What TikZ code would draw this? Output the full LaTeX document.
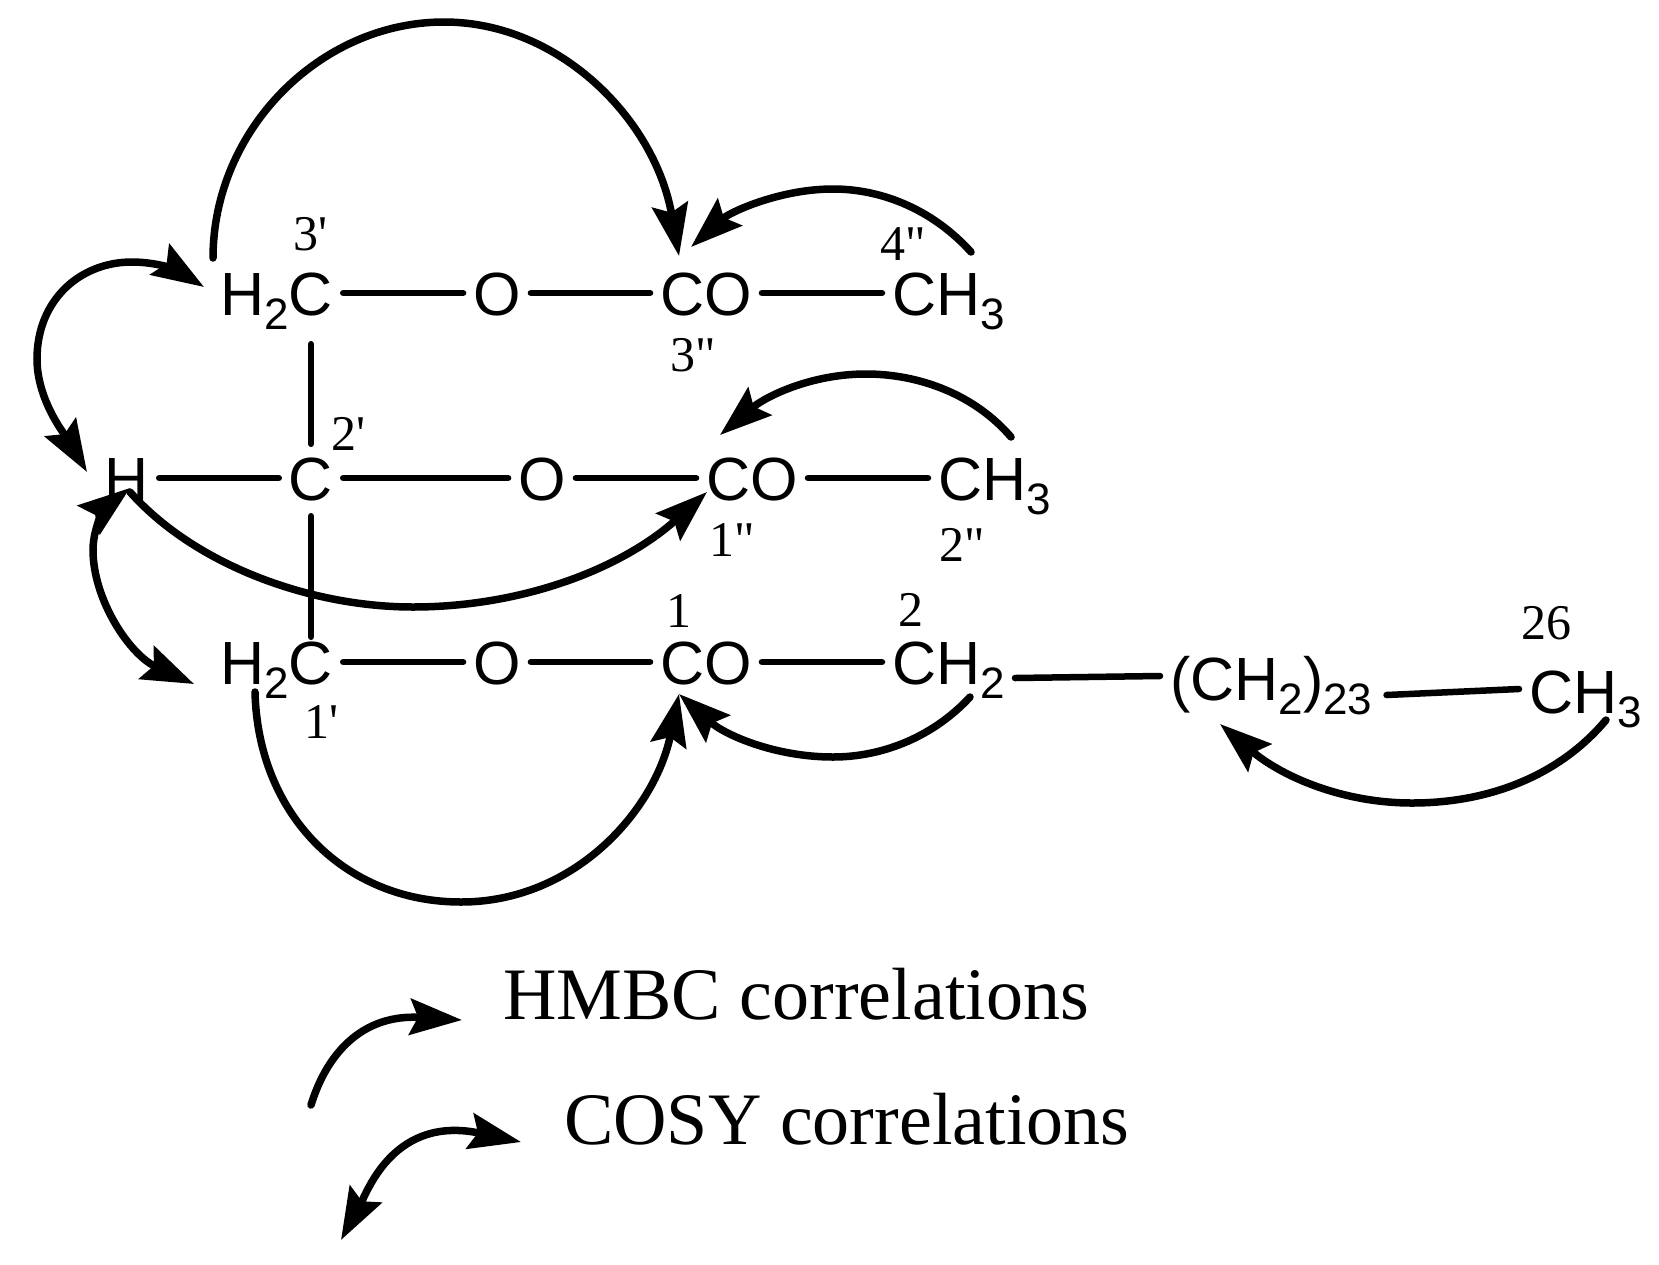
\documentclass[tikz,border=0pt]{standalone}
\usepackage{fontspec}
\setmainfont{Liberation Sans}
\newfontfamily\labelfont{Liberation Serif}
\usetikzlibrary{positioning,arrows.meta}
\newcommand{\atomsub}[1]{\raisebox{-14pt}{\fontsize{44}{44}\selectfont #1}}
\tikzstyle{node_atom} = [inner xsep=10pt, inner ysep=12pt, text height=44pt, text depth=0pt, font=\fontsize{61}{61}\selectfont]
\tikzstyle{node_label} = [inner sep=0pt, anchor=base, font=\labelfont\fontsize{50}{50}\selectfont]
\tikzstyle{node_legend} = [inner sep=0pt, anchor=base west, font=\labelfont\fontsize{74}{74}\selectfont]
\tikzstyle{edge_bond} = [line width=6.5pt, line cap=round]
\tikzstyle{edge_hmbc} = [line width=7.5pt, line cap=round, -{Stealth[length=52pt,width=36pt,inset=8pt]}]
\tikzstyle{edge_cosy} = [line width=7.5pt, {Stealth[length=52pt,width=36pt,inset=8pt]}-{Stealth[length=52pt,width=36pt,inset=8pt]}]

\begin{document}
\begin{tikzpicture}[x=1pt,y=-1pt]
\useasboundingbox (0,0) rectangle (1659,1264);

% first row
\node (C3p) at (311,293) [node_atom] {C};
\node (H3p) [node_atom, left=-20pt of C3p] {H\atomsub{2}};
\node (O3) at (497,293) [node_atom] {O};
\node (CO3) at (706,293) [node_atom] {CO};
\node (Me4) at (882,293) [node_atom, anchor=west] {CH\atomsub{3}};

% second row
\node (H2p) at (127,478) [node_atom] {H};
\node (C2p) at (311,478) [node_atom] {C};
\node (O1) at (542,478) [node_atom] {O};
\node (CO1) at (752,478) [node_atom] {CO};
\node (Me2) at (928,478) [node_atom, anchor=west] {CH\atomsub{3}};

% third row
\node (C1p) at (311,662) [node_atom] {C};
\node (H1p) [node_atom, left=-20pt of C1p] {H\atomsub{2}};
\node (O0) at (497,662) [node_atom] {O};
\node (CO0) at (706,662) [node_atom] {CO};
\node (CH2a) at (882,662) [node_atom, anchor=west] {CH\atomsub{2}};
\node (CH2b) at (1160,678) [node_atom, anchor=west] {(CH\atomsub{2})\atomsub{23}};
\node (CH3c) at (1519,691) [node_atom, anchor=west] {CH\atomsub{3}};

% numbers
\node (n3p) at (311,250) [node_label] {3'};
\node (n3pp) at (693,371) [node_label] {3"};
\node (n4pp) at (903,260) [node_label] {4"};
\node (n2p) at (348,450) [node_label] {2'};
\node (n1pp) at (732,556) [node_label] {1"};
\node (n2pp) at (962,561) [node_label] {2"};
\node (n1) at (679,627) [node_label] {1};
\node (n2) at (911,626) [node_label] {2};
\node (n26) at (1546,639) [node_label] {26};
\node (n1p) at (322,738) [node_label] {1'};

\node (hmbc) at (503,1019) [node_legend] {HMBC correlations};
\node (cosy) at (564,1144) [node_legend] {COSY correlations};

% bonds
\draw[edge_bond] (C3p)--(O3) (O3)--(CO3) (CO3)--(Me4);
\draw[edge_bond] (H2p)--(C2p) (C2p)--(O1) (O1)--(CO1) (CO1)--(Me2);
\draw[edge_bond] (C1p)--(O0) (O0)--(CO0) (CO0)--(CH2a);
\draw[edge_bond, shorten <=17pt] (C3p.south)--(C2p.north);
\draw[edge_bond, shorten <=4pt, shorten >=-9pt] (C2p.south)--(C1p.north);
\draw[edge_bond] ([yshift=-16pt]CH2a.east)--([yshift=2pt]CH2b.west);
\draw[edge_bond] ([xshift=4pt,yshift=-17pt]CH2b.east)--([yshift=2pt]CH3c.west);

% ends of the correlation arrows
\coordinate (a3p) at (213,258);
\coordinate (a3pp) at (679,256);
\coordinate (a4pp) at (971,252);
\coordinate (b4pp) at (691,247);
\coordinate (a2pp) at (1011,437);
\coordinate (b2pp) at (720,435);
\coordinate (aH) at (130,492);
\coordinate (a1pp) at (707,492);
\coordinate (a1p) at (255,692);
\coordinate (a1) at (679,694);
\coordinate (a2) at (970,697);
\coordinate (a26) at (1606,720);
\coordinate (b26) at (1220,724);
\coordinate (cH) at (87,472);
\coordinate (c3p) at (204,287);
\coordinate (dH) at (130,488);
\coordinate (d1p) at (194,684);
\coordinate (lgA) at (311,1105);
\coordinate (lgB) at (462,1020);
\coordinate (lgC) at (341,1240);
\coordinate (lgD) at (521,1142);

% HMBC
\draw[edge_hmbc] (a3p) .. controls (213,130) and (320,22) .. (444,22) .. controls (560,22) and (655,120) .. (a3pp);
\draw[edge_hmbc] (a4pp) .. controls (935,212) and (885,189) .. (833,189) .. controls (780,189) and (730,212) .. (b4pp);
\draw[edge_hmbc] (a2pp) .. controls (975,395) and (920,374) .. (866,374) .. controls (810,374) and (765,397) .. (b2pp);
\draw[edge_hmbc] (aH) .. controls (195,565) and (310,607) .. (413,607) .. controls (520,607) and (620,570) .. (a1pp);
\draw[edge_hmbc] (a1p) .. controls (258,815) and (345,902) .. (461,902) .. controls (575,902) and (655,810) .. (a1);
\draw[edge_hmbc] (a2) .. controls (935,735) and (885,757) .. (833,757) .. controls (775,757) and (725,735) .. (a1);
\draw[edge_hmbc] (a26) .. controls (1560,775) and (1490,803) .. (1412,803) .. controls (1340,803) and (1280,775) .. (b26);
\draw[edge_hmbc] (lgA) .. controls (328,1050) and (365,1014) .. (lgB);

% COSY
\draw[edge_cosy] (cH) .. controls (65,435) and (37,400) .. (37,359) .. controls (37,300) and (80,262) .. (132,262) .. controls (160,262) and (180,272) .. (c3p);
\draw[edge_cosy] (dH) .. controls (108,505) and (93,525) .. (93,550) .. controls (93,600) and (130,655) .. (d1p);
\draw[edge_cosy] (lgC) .. controls (368,1190) and (395,1115) .. (lgD);
\end{tikzpicture}
\end{document}
